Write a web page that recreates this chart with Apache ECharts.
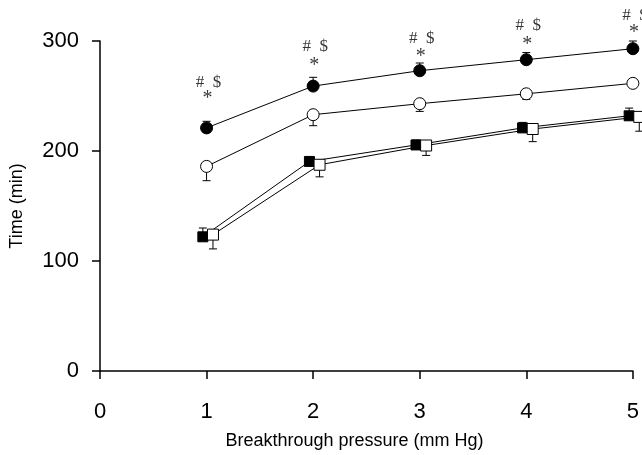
<!DOCTYPE html>
<html>
<head>
<meta charset="utf-8">
<script src="https://cdn.jsdelivr.net/npm/echarts@6/dist/echarts.min.js"></script>
<style>html,body{margin:0;padding:0;background:#fff;}#c{width:642px;height:455px;}</style>
</head>
<body>
<div id="c"></div>
<script>
var xs = [1, 2, 3, 4, 5];
var xTicks = [0, 1, 2, 3, 4, 5];
var yTicks = [0, 100, 200, 300];
var filledCircle = [221, 259, 273, 283, 293];
var filledCircleErrUp = [6, 8, 7, 6.5, 7];
var openCircle = [186, 233, 243, 252, 261.5];
var openCircleErrDown = [13, 10, 7, 5, 3];
var filledSquare = [122, 190.5, 205.5, 221, 232];
var filledSquareErrUp = [8, 4, 4.5, 5, 7];
var openSquare = [124, 187.5, 205, 220, 231];
var openSquareErrDown = [13, 11, 9, 11.5, 13];
var starY = [251, 281, 289, 300, 311];
var hashDollarY = [262, 295, 302, 314, 323];

var font = 'Liberation Sans';
var chart = echarts.init(document.getElementById('c'));

function pairs(ys) { return xs.map(function (x, i) { return [x, ys[i]]; }); }
function triples(ys, es) { return xs.map(function (x, i) { return [x, ys[i], es[i]]; }); }
function errRender(dir) {
  return function (params, api) {
    var x = api.value(0), y = api.value(1), e = api.value(2);
    var p0 = api.coord([x, y]);
    var p1 = api.coord([x, y + dir * e]);
    return {
      type: 'group',
      children: [
        { type: 'line', shape: { x1: p0[0], y1: p0[1], x2: p1[0], y2: p1[1] }, style: { stroke: '#000', lineWidth: 1 } },
        { type: 'line', shape: { x1: p1[0] - 4, y1: p1[1], x2: p1[0] + 4, y2: p1[1] }, style: { stroke: '#000', lineWidth: 1 } }
      ]
    };
  };
}

var hiddenX = function (min, max) {
  return { type: 'value', min: min, max: max, show: false, gridIndex: 0 };
};

chart.setOption({
  animation: false,
  backgroundColor: '#fff',
  grid: { left: 100, right: 9, top: 41, bottom: 84, containLabel: false },
  xAxis: [
    {
      type: 'value', min: 0, max: 5, interval: 1,
      name: 'Breakthrough pressure (mm Hg)', nameLocation: 'middle', nameGap: 61,
      nameTextStyle: { fontFamily: font, fontSize: 18, color: '#000', padding: [0, 24, 0, 0] },
      axisLine: { show: true, onZero: false, lineStyle: { color: '#000', width: 1.5 } },
      axisTick: { show: true, inside: false, length: 8, lineStyle: { color: '#000', width: 1.5 } },
      axisLabel: { fontFamily: font, fontSize: 22, color: '#000', margin: 30,
        formatter: function (v) { return xTicks.indexOf(v) >= 0 ? String(v) : ''; } },
      splitLine: { show: false }
    },
    hiddenX(0.035, 5.035),
    hiddenX(-0.06, 4.94)
  ],
  yAxis: {
    type: 'value', min: 0, max: 300, interval: 100,
    name: 'Time (min)', nameLocation: 'middle', nameGap: 74,
    nameTextStyle: { fontFamily: font, fontSize: 18, color: '#000' },
    axisLine: { show: true, lineStyle: { color: '#000', width: 1.5 } },
    axisTick: { show: true, inside: false, length: 8, lineStyle: { color: '#000', width: 1.5 } },
    axisLabel: { fontFamily: font, fontSize: 22, color: '#000', margin: 21,
      formatter: function (v) { return yTicks.indexOf(v) >= 0 ? String(v) : ''; } },
    splitLine: { show: false }
  },
  series: [
    { type: 'custom', xAxisIndex: 0, z: 1, renderItem: errRender(1), data: triples(filledCircle, filledCircleErrUp), clip: false },
    { type: 'custom', xAxisIndex: 0, z: 1, renderItem: errRender(-1), data: triples(openCircle, openCircleErrDown), clip: false },
    { type: 'custom', xAxisIndex: 1, z: 1, renderItem: errRender(1), data: triples(filledSquare, filledSquareErrUp), clip: false },
    { type: 'custom', xAxisIndex: 2, z: 1, renderItem: errRender(-1), data: triples(openSquare, openSquareErrDown), clip: false },
    {
      type: 'line', xAxisIndex: 0, z: 3, data: pairs(filledCircle), symbol: 'circle', symbolSize: 12,
      lineStyle: { color: '#000', width: 1 }, itemStyle: { color: '#000', borderColor: '#000', borderWidth: 1 }, clip: false
    },
    {
      type: 'line', xAxisIndex: 0, z: 3, data: pairs(openCircle), symbol: 'circle', symbolSize: 12,
      lineStyle: { color: '#000', width: 1 }, itemStyle: { color: '#fff', borderColor: '#000', borderWidth: 1 }, clip: false
    },
    {
      type: 'line', xAxisIndex: 1, z: 3, data: pairs(filledSquare), symbol: 'rect', symbolSize: 10,
      lineStyle: { color: '#000', width: 1 }, itemStyle: { color: '#000', borderColor: '#000', borderWidth: 1 }, clip: false
    },
    {
      type: 'line', xAxisIndex: 2, z: 4, data: pairs(openSquare), symbol: 'rect', symbolSize: 11,
      lineStyle: { color: '#000', width: 1 }, itemStyle: { color: '#fff', borderColor: '#000', borderWidth: 1 }, clip: false
    },
    {
      type: 'scatter', xAxisIndex: 0, z: 5, data: pairs(starY), symbolSize: 0, clip: false, silent: true,
      label: { show: true, position: 'inside', formatter: '*', fontFamily: 'Liberation Serif', fontSize: 20, color: '#000', offset: [1, 4] }
    },
    {
      type: 'scatter', xAxisIndex: 0, z: 5, data: pairs(hashDollarY), symbolSize: 0, clip: false, silent: true,
      label: { show: true, position: 'inside', formatter: '#  $', fontFamily: 'Liberation Serif', fontSize: 17, color: '#000', offset: [2, 0] }
    }
  ]
});
</script>
</body>
</html>
